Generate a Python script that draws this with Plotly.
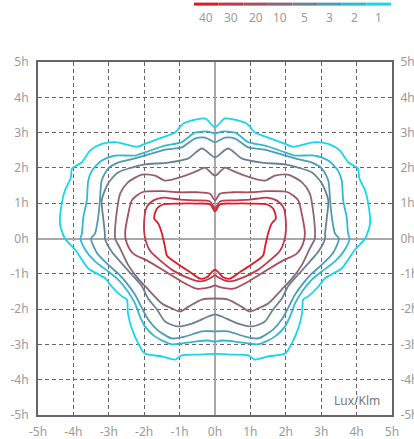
import plotly.graph_objects as go

levels = ["40", "30", "20", "10", "5", "3", "2", "1"]
colors = ["#dd1a26", "#c2374a", "#a84f5d", "#8d6674", "#6b8193", "#4f9bb3", "#32b8d2", "#14d6ef"]

# right half of each isolux contour (x, y in mounting heights), top-centre -> bottom-centre
c40_x = [0, 0.14, 0.52, 0.99, 1.46, 1.64, 1.72, 1.6, 1.5, 1.41, 1.36, 1.07, 0.71, 0.42, 0.23, 0.09, 0]
c40_y = [0.77, 0.97, 0.99, 0.99, 0.97, 0.85, 0.57, 0.42, 0.14, -0.25, -0.48, -0.71, -0.95, -1.14, -1.1, -0.95, -0.88]
c30_x = [0, 0.14, 0.52, 0.99, 1.46, 1.74, 1.93, 2.0, 1.98, 1.84, 1.55, 1.18, 0.8, 0.47, 0.28, 0.09, 0]
c30_y = [0.85, 1.05, 1.08, 1.1, 1.16, 1.08, 0.89, 0.51, 0.04, -0.34, -0.62, -0.91, -1.1, -1.21, -1.19, -1.1, -1.04]
c20_x = [0, 0.14, 0.52, 0.99, 1.46, 2.06, 2.35, 2.45, 2.54, 2.49, 2.31, 1.93, 1.46, 0.99, 0.52, 0.14, 0]
c20_y = [1.08, 1.27, 1.31, 1.31, 1.34, 1.31, 1.08, 0.7, 0.14, -0.14, -0.43, -0.62, -0.9, -1.19, -1.42, -1.38, -1.33]
c10_x = [0, 0.28, 0.47, 0.85, 1.41, 1.69, 2.06, 2.46, 2.68, 2.77, 2.82, 2.82, 2.68, 2.46, 2.18, 1.89, 1.5, 1.22, 0.99, 0.75, 0.37, 0]
c10_y = [1.78, 2.01, 1.93, 1.78, 1.64, 1.78, 1.81, 1.59, 1.27, 0.79, 0.31, 0.0, -0.28, -0.74, -1.13, -1.44, -1.84, -1.98, -2.07, -1.93, -1.73, -1.7]
c5_x = [0, 0.37, 0.75, 1.32, 1.98, 2.35, 2.74, 3.02, 3.2, 3.16, 3.11, 3.11, 2.92, 2.63, 2.35, 2.06, 1.89, 1.64, 1.41, 1.07, 0.65, 0.19, 0]
c5_y = [2.3, 2.55, 2.27, 2.15, 2.1, 2.01, 1.87, 1.56, 1.08, 0.6, 0.14, 0.0, -0.37, -0.71, -1.02, -1.36, -1.7, -2.01, -2.35, -2.49, -2.41, -2.21, -2.15]
c3_x = [0, 0.28, 0.57, 0.94, 1.41, 1.98, 2.26, 2.74, 3.02, 3.2, 3.25, 3.3, 3.39, 3.5, 3.33, 3.02, 2.74, 2.49, 2.26, 2.06, 1.89, 1.64, 1.22, 0.85, 0.37, 0]
c3_y = [2.73, 2.86, 2.83, 2.58, 2.52, 2.35, 2.27, 2.15, 1.98, 1.64, 1.08, 0.6, 0.14, 0.0, -0.42, -0.74, -0.99, -1.27, -1.59, -1.98, -2.29, -2.58, -2.83, -2.78, -2.63, -2.63]
c2_x = [0, 0.19, 0.57, 0.94, 1.41, 1.98, 2.26, 2.82, 3.2, 3.47, 3.58, 3.62, 3.72, 3.76, 3.8, 3.67, 3.39, 3.02, 2.74, 2.46, 2.26, 2.12, 1.98, 1.69, 1.22, 0.94, 0.57, 0.19, 0]
c2_y = [2.97, 3.03, 3.0, 2.73, 2.63, 2.44, 2.35, 2.35, 2.21, 1.93, 1.64, 1.08, 0.6, 0.14, 0.0, -0.31, -0.65, -0.93, -1.16, -1.5, -1.84, -2.21, -2.49, -2.78, -3.0, -2.97, -2.92, -2.89, -2.92]
c1_x = [0, 0.28, 0.9, 1.13, 1.5, 1.98, 2.2, 2.82, 3.2, 3.53, 3.76, 4.04, 4.07, 4.24, 4.33, 4.38, 4.24, 3.95, 3.76, 3.58, 3.1, 2.92, 2.63, 2.49, 2.46, 2.35, 2.17, 1.98, 1.5, 1.13, 0.94, 0.47, 0]
c1_y = [3.15, 3.4, 3.25, 3.0, 2.86, 2.68, 2.6, 2.73, 2.68, 2.49, 2.16, 1.98, 1.73, 1.36, 0.99, 0.42, 0.0, -0.32, -0.6, -0.85, -1.13, -1.36, -1.64, -1.73, -2.12, -2.55, -2.97, -3.26, -3.34, -3.43, -3.31, -3.29, -3.27]

halves = [(c40_x, c40_y), (c30_x, c30_y), (c20_x, c20_y), (c10_x, c10_y),
          (c5_x, c5_y), (c3_x, c3_y), (c2_x, c2_y), (c1_x, c1_y)]

tick_vals = [-5, -4, -3, -2, -1, 0, 1, 2, 3, 4, 5]
tick_text = ["-5h", "-4h", "-3h", "-2h", "-1h", "0h", "1h", "2h", "3h", "4h", "5h"]

FONT = "Noto Sans"
GRAY = "#9a9a9a"

fig = go.Figure()
for (hx, hy), col, lev in zip(halves, colors, levels):
    xs = list(hx) + [-v for v in reversed(hx[1:-1])] + [hx[0]]
    ys = list(hy) + list(reversed(hy[1:-1])) + [hy[0]]
    fig.add_trace(go.Scatter(x=xs, y=ys, mode="lines", name=lev,
                             line=dict(color=col, width=1.8, shape="spline", smoothing=0.7),
                             hoverinfo="skip", showlegend=False))

# invisible trace to carry the mirrored right-hand y axis
fig.add_trace(go.Scatter(x=c1_x, y=c1_y, yaxis="y2", mode="lines",
                         line=dict(width=0), opacity=0, hoverinfo="skip", showlegend=False))

axis_common = dict(range=[-5, 5], tickvals=tick_vals, ticktext=tick_text,
                   tickfont=dict(family=FONT, size=12, color=GRAY),
                   ticks="outside", ticklen=5, tickcolor="rgba(0,0,0,0)",
                   fixedrange=True, automargin=False)

fig.update_layout(
    width=414, height=439,
    margin=dict(l=38, r=22, t=62, b=24),
    paper_bgcolor="white", plot_bgcolor="white",
    showlegend=False,
    xaxis=dict(**axis_common, showgrid=True, gridcolor="#666666", griddash="4px,3px", gridwidth=1,
               zeroline=True, zerolinecolor="#a8a8a8", zerolinewidth=2,
               showline=True, linecolor="#666666", linewidth=2, mirror=True),
    yaxis=dict(**axis_common, showgrid=True, gridcolor="#666666", griddash="4px,3px", gridwidth=1,
               zeroline=True, zerolinecolor="#a8a8a8", zerolinewidth=2,
               showline=True, linecolor="#666666", linewidth=2, mirror=True),
    yaxis2=dict(**axis_common, overlaying="y", side="right", showgrid=False, zeroline=False,
                showline=False),
)

# legend: coloured segments with level labels beneath
n = len(levels)
x0, x1 = 0.4407, 0.997
w = (x1 - x0) / n
for i, (lev, col) in enumerate(zip(levels, colors)):
    fig.add_shape(type="line", xref="paper", yref="paper",
                  x0=x0 + i * w, x1=x0 + (i + 1) * w, y0=1.164, y1=1.164,
                  line=dict(color=col, width=3))
    fig.add_annotation(xref="paper", yref="paper", x=x0 + (i + 0.5) * w, y=1.127,
                       xanchor="center", yanchor="middle",
                       text=lev, showarrow=False,
                       font=dict(family=FONT, size=12, color=GRAY))

fig.add_annotation(xref="paper", yref="paper", x=0.9, y=0.04, text="Lux/Klm",
                   xanchor="center", yanchor="middle",
                   showarrow=False, font=dict(family=FONT, size=12, color="#777777"))

fig.write_html("out.html")
